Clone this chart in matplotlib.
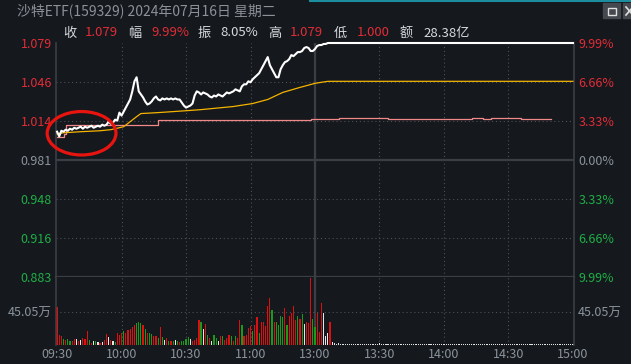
import matplotlib
matplotlib.use("Agg")
import matplotlib.pyplot as plt
from matplotlib.patches import Ellipse, Rectangle
from matplotlib.lines import Line2D

plt.rcParams["font.family"] = ["Noto Sans CJK SC", "DejaVu Sans"]

# ---- data ----
TITLE = "沙特ETF(159329) 2024年07月16日 星期二"
QUOTE_KEYS = ["收", "幅", "振", "高", "低", "额"]
QUOTE_VALS = ["1.079", "9.99%", "8.05%", "1.079", "1.000", "28.38亿"]
QUOTE_UP = [True, True, False, True, True, False]

PREV_CLOSE = 0.981
PRICE_TICKS = [1.079, 1.046, 1.014, 0.981, 0.948, 0.916, 0.883]
PCT_LABELS = ["9.99%", "6.66%", "3.33%", "0.00%", "3.33%", "6.66%", "9.99%"]
VOL_TICK = 45.05
VOL_LABEL = "45.05万"
TIME_TICKS = [0, 30, 60, 90, 120, 150, 180, 210, 240]
TIME_LABELS = ["09:30", "10:00", "10:30", "11:00", "13:00", "13:30", "14:00", "14:30", "15:00"]

# last price per minute (0 = 09:30), limit-up from minute 126 to close
PRICE = [
    1.0047, 1.0008, 1.0055, 1.0047, 1.0064, 1.0055, 1.0072, 1.0064, 1.0080, 1.0072,
    1.0080, 1.0089, 1.0072, 1.0089, 1.0080, 1.0089, 1.0097, 1.0080, 1.0089, 1.0097,
    1.0089, 1.0106, 1.0097, 1.0106, 1.0131, 1.0114, 1.0123, 1.0148, 1.0140, 1.0207,
    1.0182, 1.0216, 1.0249, 1.0283, 1.0317, 1.0385, 1.0469, 1.0503, 1.0385, 1.0359,
    1.0334, 1.0300, 1.0275, 1.0283, 1.0300, 1.0326, 1.0342, 1.0317, 1.0309, 1.0326,
    1.0317, 1.0326, 1.0317, 1.0326, 1.0317, 1.0326, 1.0317, 1.0317, 1.0292, 1.0266,
    1.0249, 1.0258, 1.0266, 1.0283, 1.0350, 1.0385, 1.0376, 1.0359, 1.0376, 1.0368,
    1.0359, 1.0342, 1.0334, 1.0350, 1.0342, 1.0359, 1.0350, 1.0342, 1.0359, 1.0376,
    1.0368, 1.0376, 1.0385, 1.0402, 1.0393, 1.0385, 1.0427, 1.0444, 1.0444, 1.0469,
    1.0461, 1.0486, 1.0503, 1.0520, 1.0537, 1.0570, 1.0604, 1.0638, 1.0672, 1.0604,
    1.0570, 1.0537, 1.0503, 1.0503, 1.0570, 1.0604, 1.0630, 1.0638, 1.0655, 1.0689,
    1.0680, 1.0697, 1.0714, 1.0714, 1.0723, 1.0748, 1.0756, 1.0748, 1.0723, 1.0723,
    1.0740, 1.0765, 1.0773, 1.0773, 1.0782, 1.0782, 1.0790, 1.0790,
]
PRICE_MIN = list(range(127)) + [240]

# average price (yellow)
AVG_MIN = [0, 3, 11, 20, 25, 27, 31, 34, 37, 39, 47, 61, 67, 82, 91, 98, 105, 113, 120, 123, 126, 240]
AVG_PX = [1.0030, 1.0038, 1.0047, 1.0055, 1.0064, 1.0072, 1.0089, 1.0131, 1.0173, 1.0199, 1.0207,
          1.0224, 1.0232, 1.0258, 1.0283, 1.0317, 1.0376, 1.0418, 1.0452, 1.0461, 1.0469, 1.0469]

# reference / iopv line (pink, stepped)
REF_MIN = [0, 3, 4, 47, 118, 131, 154, 193, 198, 202, 216, 230]
REF_PX = [1.0004, 1.0030, 1.0106, 1.0145, 1.0154, 1.0162, 1.0154, 1.0162, 1.0154, 1.0162, 1.0154, 1.0154]

# volume per minute (万)
VOL = [
    52, 14, 12, 8, 7, 8, 6, 6, 8, 8,
    5, 7, 9, 8, 19, 7, 3, 5, 5, 4,
    3, 4, 7, 15, 11, 7, 5, 4, 16, 14,
    17, 19, 17, 20, 22, 25, 28, 30, 32, 30,
    28, 22, 17, 17, 15, 12, 12, 9, 25, 11,
    7, 9, 5, 6, 6, 7, 6, 4, 5, 5,
    8, 11, 8, 5, 7, 10, 34, 31, 22, 29,
    14, 9, 5, 14, 9, 6, 12, 12, 7, 9,
    14, 12, 6, 12, 9, 34, 28, 12, 14, 23,
    26, 19, 28, 38, 17, 32, 31, 26, 53, 64,
    48, 31, 32, 28, 40, 38, 50, 28, 40, 44,
    54, 34, 39, 35, 43, 29, 31, 30, 91, 35,
    24,
    44, 18, 58, 44, 12, 16, 32, 4.6, 2.3, 1.5,
    2.8, 1.2, 1.0, 0.9, 1.2, 1.0, 0.8, 1.1, 0.9, 1.0,
    1.0, 0.9, 1.1, 1.0, 0.8, 1.2, 1.0, 0.9, 1.0, 2.4,
    1.0, 0.9, 1.1, 0.8, 1.0, 1.0, 0.9, 1.2, 1.0, 0.8,
    0.9, 1.0, 1.1, 0.9, 1.0, 0.8, 1.0, 1.1, 0.9, 1.0,
    1.0, 0.8, 0.9, 1.0, 1.2, 1.0, 0.9, 1.0, 0.8, 1.0,
    1.1, 0.9, 1.0, 1.0, 0.8, 1.0, 0.9, 1.1, 1.0, 0.9,
    1.0, 0.8, 1.0, 1.0, 0.9, 1.1, 1.0, 0.9, 0.8, 1.0,
    1.0, 0.9, 1.0, 1.1, 0.8, 1.0, 0.9, 1.0, 1.0, 0.9,
    1.1, 1.0, 0.8, 0.9, 1.0, 1.0, 1.2, 0.9, 1.0, 0.8,
    1.0, 0.9, 1.0, 1.1, 1.0, 0.9, 0.8, 1.0, 1.0, 0.9,
    1.0, 1.1, 0.9, 1.0, 0.8, 1.0, 1.0, 0.9, 1.0, 1.2,
]
VOL_DIR = (
    "rrrgrggrrw" "rwrrrgrwgw" "rwrrwrwgrr" "rgrrrrrggg" "rgrggrrgrg" "wrgrgwgrgg"
    "ggwrrrrgwr" "grwggwrgrr" "rgrgrrgrrr" "rgrrgrrrrr" "grggggrgrr" "rrgrgwrrrg" "g"
    "rrrwwwrwww" + "w" * 110
)
assert len(VOL) == 241 and len(VOL_DIR) == 241

# ---- style ----
BG = "#15181d"
FRAME = "#3b3e44"
DOT = "#4c5057"
RED = "#e12d37"
GREEN = "#1eaf46"
GRAY = "#8a939c"
LIGHT = "#d6dbe0"
BAR_COL = {"r": "#dc1010", "g": "#1a9a1a", "w": "#e6e6e6"}
W, H = 631, 364


def fx(px):
    return px / W


def fy(py):
    return 1 - py / H


fig = plt.figure(figsize=(6.31, 3.64), dpi=100, facecolor=BG)
L, R = fx(56), fx(574)
ax = fig.add_axes([L, fy(277), R - L, fy(43) - fy(277)], facecolor=BG)
axv = fig.add_axes([L, fy(345), R - L, fy(277) - fy(345)], facecolor=BG, sharex=ax)

for a in (ax, axv):
    for s in ("top", "bottom"):
        a.spines[s].set_visible(False)
    for s in ("left", "right"):
        a.spines[s].set_color(FRAME)
        a.spines[s].set_linewidth(1.2)
    a.tick_params(length=0)
    for m in (30, 60, 90, 150, 180, 210):
        a.axvline(m, color=DOT, lw=0.8, ls=(0, (1, 2.5)), zorder=0)
    a.axvline(120, color=FRAME, lw=1.6, zorder=0)

ax.set_xlim(-0.5, 240.5)
ax.set_ylim(0.883, 1.079)
for p in (1.046, 1.014, 0.948, 0.916):
    ax.axhline(p, color=DOT, lw=0.8, ls=(0, (1, 2.5)), zorder=0)
ax.axhline(PREV_CLOSE, color=FRAME, lw=1.6, zorder=0)
ax.axhline(0.883, color=FRAME, lw=1.6, zorder=0, clip_on=False)

ax.plot(REF_MIN, REF_PX, color="#f08a8a", lw=0.9, drawstyle="steps-post", zorder=2)
ax.plot(AVG_MIN, AVG_PX, color="#f5b400", lw=0.9, zorder=3)
ax.plot(PRICE_MIN, PRICE, color="white", lw=1.5, zorder=4, clip_on=False)

# red marker circle around the opening stretch
ax.add_patch(Ellipse((11.4, 1.0034), 32, 0.0364, fill=False, ec="#e8140f", lw=2.3,
                     zorder=5, clip_on=False))

# price tick labels
cols = [RED, RED, RED, GRAY, GREEN, GREEN, GREEN]
ax.set_yticks(PRICE_TICKS)
ax.set_yticklabels([f"{p:.3f}" for p in PRICE_TICKS], fontsize=9)
for t, c in zip(ax.get_yticklabels(), cols):
    t.set_color(c)
ax.tick_params(axis="y", pad=3)
ax.tick_params(axis="x", labelbottom=False)
ax2 = ax.twinx()
ax2.set_ylim(ax.get_ylim())
ax2.set_yticks(PRICE_TICKS)
ax2.set_yticklabels(PCT_LABELS, fontsize=9)
for t, c in zip(ax2.get_yticklabels(), cols):
    t.set_color(c)
ax2.tick_params(length=0, pad=3)
for s in ax2.spines.values():
    s.set_visible(False)

# volume
axv.set_ylim(0, 93)
axv.axhline(VOL_TICK, color=DOT, lw=0.8, ls=(0, (1, 2.5)), zorder=0)
axv.bar(range(len(VOL)), VOL, width=0.55, color=[BAR_COL[d] for d in VOL_DIR], lw=0, zorder=2)
axv.set_yticks([VOL_TICK])
axv.set_yticklabels([VOL_LABEL], fontsize=9, color=GRAY)
axv.tick_params(axis="y", pad=3)
axv2 = axv.twinx()
axv2.set_ylim(axv.get_ylim())
axv2.set_yticks([VOL_TICK])
axv2.set_yticklabels([VOL_LABEL], fontsize=9, color=GRAY)
axv2.tick_params(length=0, pad=3)
for s in axv2.spines.values():
    s.set_visible(False)
axv.set_xticks(TIME_TICKS)
axv.set_xticklabels(TIME_LABELS, fontsize=9, color=GRAY)
axv.tick_params(axis="x", pad=2)

# header
fig.text(fx(17), fy(11), TITLE, fontsize=10, color="#8c9198", va="center", ha="left")
key_x = [63, 128, 198, 268, 334, 400]
val_x = [85, 151, 220, 290, 357, 423]
for k, v, up, kx, vx in zip(QUOTE_KEYS, QUOTE_VALS, QUOTE_UP, key_x, val_x):
    fig.text(fx(kx), fy(33), k, fontsize=9.5, color=LIGHT, va="center", ha="left")
    fig.text(fx(vx), fy(33), v, fontsize=9.5, color=RED if up else LIGHT, va="center", ha="left")

# window chrome
fig.add_artist(Line2D([fx(310), 1], [fy(0.5), fy(0.5)], color="#1b8d9e", lw=1.5))
fig.add_artist(Rectangle((fx(603), fy(18)), fx(17), fy(3) - fy(18), color="#45484e"))
fig.add_artist(Rectangle((fx(607.5), fy(14.5)), fx(8), fy(7.5) - fy(14.5), fill=False,
                         ec="#e0e0e0", lw=1))
fig.add_artist(Rectangle((fx(623), fy(18)), fx(10), fy(3) - fy(18), color="#45484e"))
fig.add_artist(Line2D([fx(626), fx(633)], [fy(7), fy(15)], color="#e0e0e0", lw=1.2))
fig.add_artist(Line2D([fx(626), fx(633)], [fy(15), fy(7)], color="#e0e0e0", lw=1.2))

fig.savefig("out.png", dpi=100, facecolor=BG)
